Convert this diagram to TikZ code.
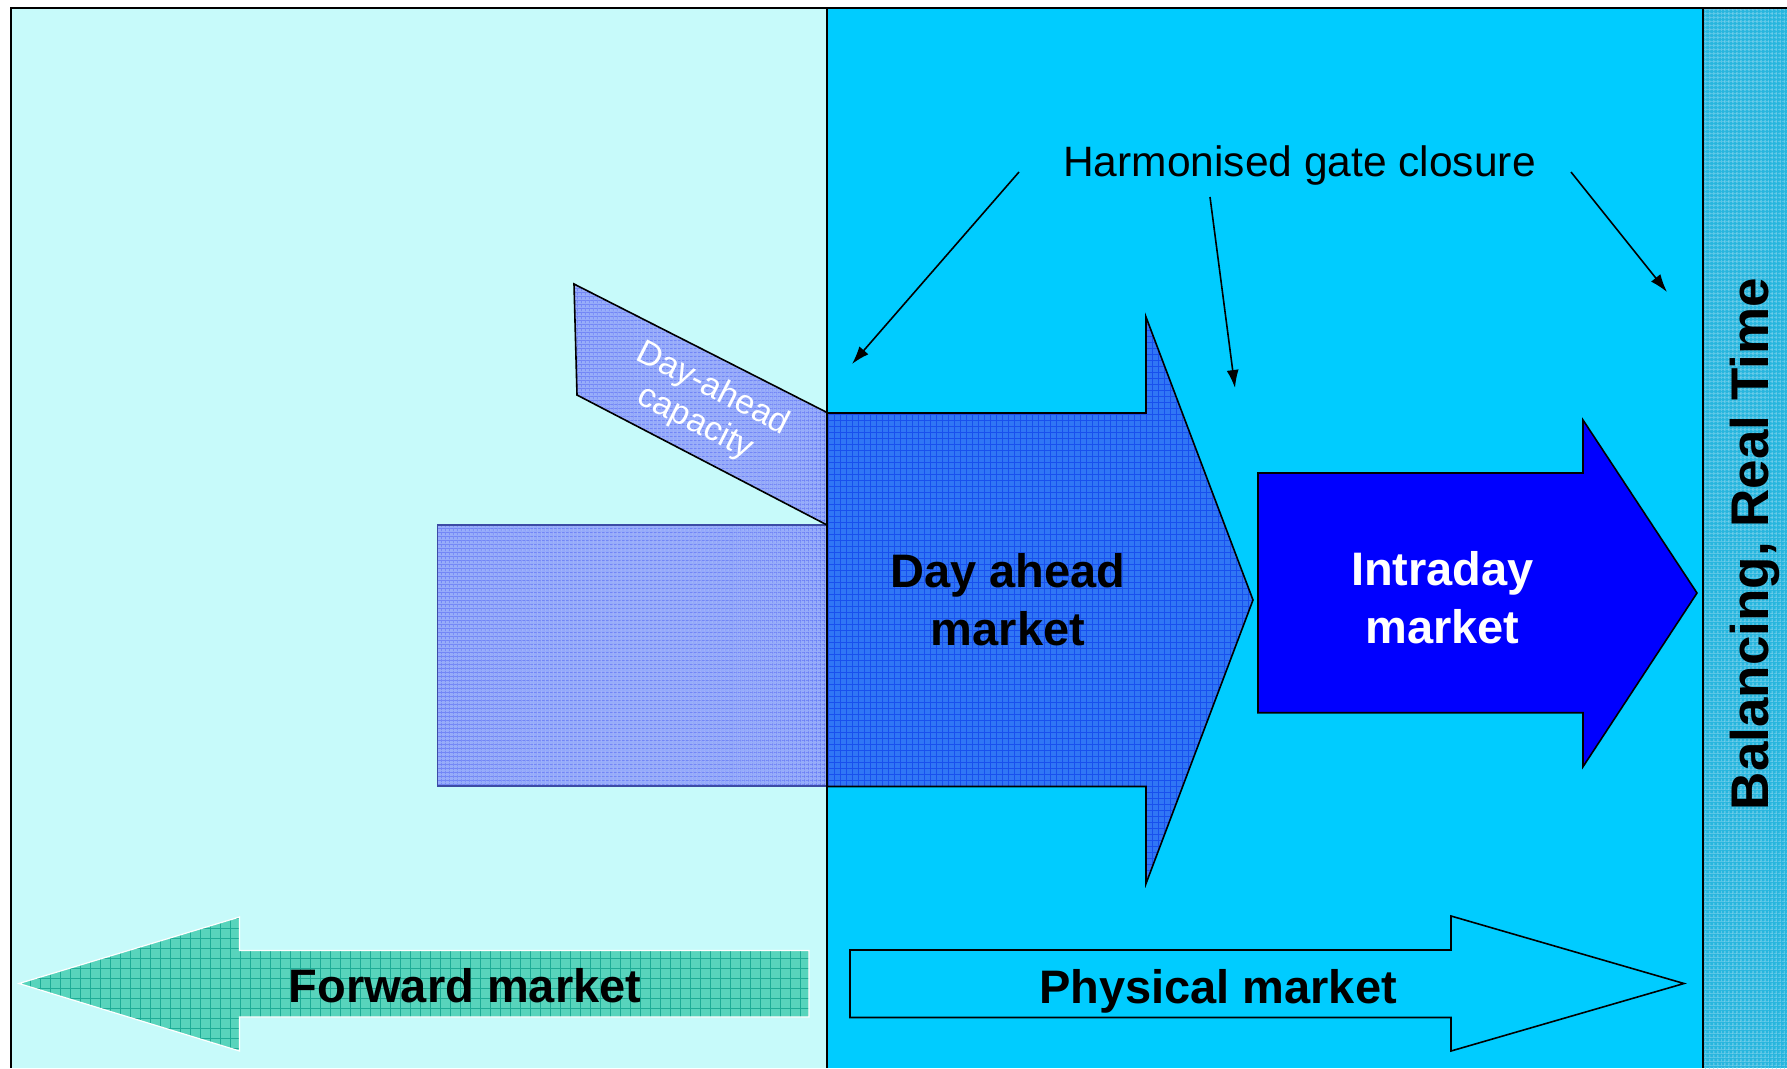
\documentclass[tikz,border=0pt]{standalone}
\usepackage{fontspec}
\setmainfont{Liberation Sans}
\usetikzlibrary{arrows.meta,patterns.meta}
\definecolor{lightbg}{RGB}{199,250,250}
\definecolor{darkbg}{RGB}{0,204,255}
\definecolor{stripbg}{RGB}{40,182,222}
\definecolor{stripdot}{RGB}{110,205,235}
\definecolor{rectblue}{RGB}{150,172,250}
\definecolor{rectline}{RGB}{95,115,245}
\definecolor{rectedge}{RGB}{60,75,165}
\definecolor{dablue}{RGB}{48,118,245}
\definecolor{daline}{RGB}{25,80,238}
\definecolor{idblue}{RGB}{0,0,255}
\definecolor{fwdgreen}{RGB}{88,212,188}
\definecolor{fwdline}{RGB}{30,172,150}
\begin{document}
\begin{tikzpicture}[x=1pt,y=-1pt,
  frameline/.style={line width=2pt,black},
  gridfill/.style 2 args={fill=#1,
    postaction={pattern={Lines[angle=0,distance=#2,line width=0.7pt]},pattern color=\gridcol},
    postaction={pattern={Lines[angle=90,distance=#2,line width=0.7pt]},pattern color=\gridcol}},
  gatearrow/.style={line width=1.6pt,-{Latex[length=18pt,width=12pt]}},
  bigtext/.style={font=\bfseries\fontsize{47}{58}\selectfont,inner sep=0pt,align=center},
  gatetext/.style={font=\fontsize{42.5}{50}\selectfont,inner sep=0pt},
  captext/.style={font=\fontsize{34}{38}\selectfont,inner sep=0pt,align=center,text=white}]
\useasboundingbox (0,0) rectangle (1787,1068);
\fill[white] (0,0) rectangle (1787,1068);
% backgrounds
\fill[lightbg] (11,8) rectangle (827,1068);
\fill[darkbg] (827,8) rectangle (1703,1068);
\def\gridcol{stripdot}
\path[gridfill={stripbg}{4pt}] (1703,8) rectangle (1787,1068);
% lower-left rectangle
\def\gridcol{rectline}
\path[gridfill={rectblue}{4pt}] (437.6,525) rectangle (827,786);
\draw[rectedge,line width=1.5pt] (827,525) -- (437.6,525) -- (437.6,786) -- (827,786);
% day-ahead capacity parallelogram
\path[gridfill={rectblue}{4pt}] (827,412.5) -- (574,284) -- (577,395) -- (827,525) -- cycle;
\draw[line width=1.6pt] (827,412.5) -- (574,284) -- (577,395) -- (827,525);
% day-ahead arrow
\def\gridcol{daline}
\path[gridfill={dablue}{6pt}] (827,413) -- (1146,413) -- (1146,317) -- (1253,600) -- (1146,883.6) -- (1146,786.5) -- (827,786.5) -- cycle;
\draw[line width=1.6pt] (827,413) -- (1146,413) -- (1146,317) -- (1253,600) -- (1146,883.6) -- (1146,786.5) -- (827,786.5);
% intraday arrow
\draw[fill=idblue,line width=1.6pt] (1258,473) -- (1583,473) -- (1583,420) -- (1697,593) -- (1583,766.7) -- (1583,712.7) -- (1258,712.7) -- cycle;
% forward market arrow
\def\gridcol{fwdline}
\path[gridfill={fwdgreen}{10pt}] (19,983.5) -- (239.5,917) -- (239.5,950.5) -- (809,950.5) -- (809,1017) -- (239.5,1017) -- (239.5,1051) -- cycle;
\draw[white,line width=1.2pt] (19,983.5) -- (239.5,917) -- (239.5,950.5) -- (809,950.5) -- (809,1017) -- (239.5,1017) -- (239.5,1051) -- cycle;
% physical market arrow
\draw[fill=darkbg,line width=1.6pt] (850,950) -- (1451,950) -- (1451,916) -- (1684,983.5) -- (1451,1051) -- (1451,1017.5) -- (850,1017.5) -- cycle;
% frame lines
\draw[frameline] (10,8) -- (1787,8);
\draw[frameline] (11,7) -- (11,1068);
\draw[frameline] (827,8) -- (827,1068);
\draw[frameline] (1703,8) -- (1703,1068);
% texts
\node[gatetext,anchor=base] (harm) at (1299.5,176.7) {Harmonised gate closure};
\node[bigtext] (dam) at (1008,600) {Day ahead\\market};
\node[bigtext,text=white] (idm) at (1442.5,597.5) {Intraday\\market};
\node[bigtext,anchor=base] (fwd) at (465,1002) {Forward market};
\node[bigtext,anchor=base] (phys) at (1218,1003) {Physical market};
\node[font=\bfseries\fontsize{53}{60}\selectfont,inner sep=0pt,anchor=base,rotate=90] (bal) at (1768,544) {Balancing,  Real Time};
\node[captext,rotate=-27] (dacap) at (704,406) {Day-ahead\\capacity};
% gate closure arrows
\coordinate (g1s) at (1019,172);
\coordinate (g1e) at (852,364);
\coordinate (g2s) at (1210,197);
\coordinate (g2e) at (1235,388);
\coordinate (g3s) at (1571,172);
\coordinate (g3e) at (1667,292);
\draw[gatearrow] (g1s) -- (g1e);
\draw[gatearrow] (g2s) -- (g2e);
\draw[gatearrow] (g3s) -- (g3e);
\end{tikzpicture}
\end{document}
